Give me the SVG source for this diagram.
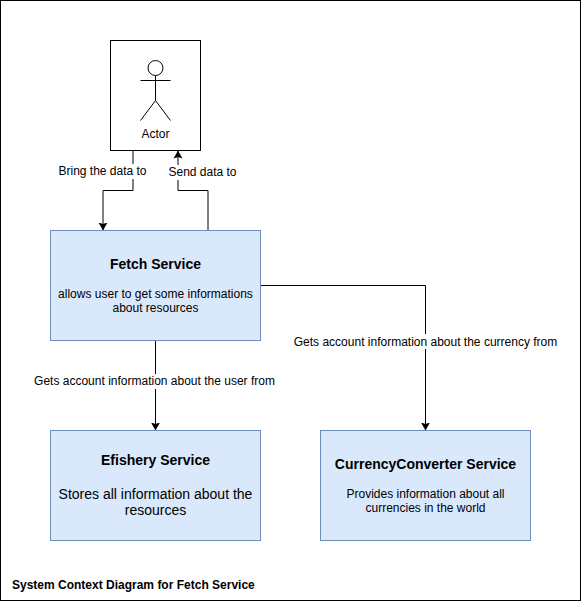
<svg xmlns="http://www.w3.org/2000/svg" width="581" height="601" viewBox="0 0 581 601">
<defs><marker id="a" markerUnits="userSpaceOnUse" markerWidth="10" markerHeight="10" refX="8" refY="5" orient="auto"><path d="M0 0.500L8 5L0 9.500L1.500 5Z" fill="#000"/></marker></defs>
<style>
text{font-family:"Liberation Sans",Arial,sans-serif;font-size:12px;fill:#000;text-anchor:middle}
.b{font-weight:bold;font-size:14px}
.box{fill:#dae8fc;stroke:#6c8ebf}
.c{fill:none;stroke:#000;stroke-width:1}
.l{fill:#fff;stroke:none}
</style>
<rect width="581" height="601" fill="#fff"/>
<rect x="0.500" y="0.500" width="580" height="600" fill="none" stroke="#000"/>
<g id="actor">
<rect x="110.500" y="40.500" width="90" height="110" fill="#fff" stroke="#000"/>
<g class="c"><circle cx="155.500" cy="68" r="7.500"/><path d="M155.500 75.500V100.500M140.500 80.500H170.500M155.500 100.500L140.500 120.500M155.500 100.500L170.500 120.500"/></g>
<text x="155.500" y="138">Actor</text>
</g>
<g id="connectors">
<path class="c" marker-end="url(#a)" d="M133 150.500V190.500H103V230.500"/>
<path class="c" marker-end="url(#a)" d="M208 230.500V190.500H178V150.500"/>
<path class="c" marker-end="url(#a)" d="M155.500 340.500V430.500"/>
<path class="c" marker-end="url(#a)" d="M260.500 285.500H425.500V430.500"/>
<rect class="l" x="57" y="164" width="91" height="15"/><text x="102.500" y="175">Bring the data to</text>
<rect class="l" x="167" y="165" width="71" height="15"/><text x="202.500" y="176">Send data to</text>
<rect class="l" x="33" y="374" width="243" height="15"/><text x="154.500" y="385">Gets account information about the user from</text>
<rect class="l" x="293" y="334" width="265" height="15"/><text x="425.500" y="346">Gets account information about the currency from</text>
</g>
<g id="fetch"><rect class="box" x="50.500" y="230.500" width="210" height="110"/>
<text class="b" x="155.500" y="269">Fetch Service</text>
<text x="155.500" y="298">allows user to get some informations</text><text x="155.500" y="312">about resources</text></g>
<g id="efishery"><rect class="box" x="50.500" y="430.500" width="210" height="110"/>
<text class="b" x="155.500" y="465">Efishery Service</text>
<text x="155.500" y="499" style="font-size:14px">Stores all information about the</text><text x="155.500" y="515" style="font-size:14px">resources</text></g>
<g id="currency"><rect class="box" x="320.500" y="430.500" width="210" height="110"/>
<text class="b" x="425.500" y="469">CurrencyConverter Service</text>
<text x="425.500" y="498">Provides information about all</text><text x="425.500" y="512">currencies in the world</text></g>
<text x="12" y="589" style="text-anchor:start;font-weight:bold">System Context Diagram for Fetch Service</text>
</svg>
